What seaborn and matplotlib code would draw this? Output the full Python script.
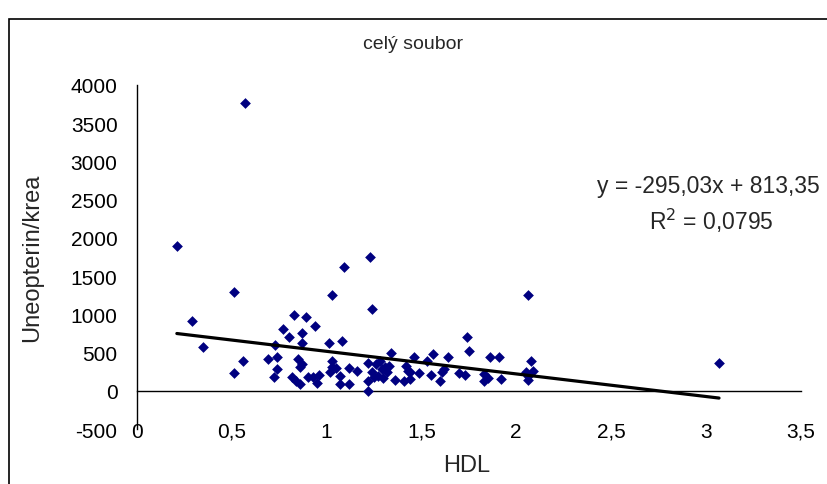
import numpy as np
import pandas as pd
import matplotlib
matplotlib.use("Agg")
import matplotlib.pyplot as plt
import seaborn as sns
from matplotlib.patches import Rectangle

sns.set_style("white")
plt.rcParams['font.family'] = ['Liberation Sans', 'DejaVu Sans']
plt.rcParams['axes.unicode_minus'] = False

# Data
hdl = [0.21, 0.57, 0.51, 0.29, 0.35, 1.09, 1.03, 1.23, 1.24, 2.06, 3.07, 1.74, 1.75,
       0.83, 0.89, 0.94, 0.77, 0.87, 0.80, 0.87, 1.01, 1.08, 0.73, 0.56, 0.69, 0.74,
       0.85, 0.87, 0.86, 0.74, 0.51, 0.72, 0.82, 0.84, 0.86, 0.90, 0.93, 0.96, 0.95,
       1.03, 1.03, 1.05, 1.02, 1.07, 1.07, 1.12, 1.12, 1.16, 1.22, 1.22,
       1.34, 1.46, 1.56, 1.53, 1.26, 1.24, 1.29, 1.33, 1.42, 1.44, 1.49, 1.55, 1.61,
       1.22, 1.36, 1.41, 1.44, 1.60, 1.27, 1.30, 1.28, 1.31, 1.25, 1.43, 1.62, 1.32,
       1.64, 1.86, 1.91, 2.08, 1.70, 1.73, 1.83, 1.85, 1.83, 1.92, 2.05, 2.09, 2.06, 2.06]
uneopterin = [1900, 3760, 1300, 920, 575, 1615, 1255, 1750, 1070, 1255, 365, 700, 520,
              990, 965, 855, 805, 760, 700, 630, 625, 650, 605, 390, 420, 440,
              420, 350, 310, 290, 230, 180, 180, 135, 95, 180, 180, 205, 110,
              395, 320, 295, 245, 200, 95, 90, 300, 260, 370, -5,
              500, 450, 480, 395, 350, 245, 290, 330, 330, 245, 230, 215, 250,
              135, 140, 135, 160, 135, 200, 175, 390, 310, 180, 265, 290, 250,
              440, 440, 440, 390, 240, 215, 220, 175, 130, 155, 245, 260, 150, 200]

slope = -295.03
intercept = 813.35
equation = "y = -295,03x + 813,35"
r2_text = "R$^2$ = 0,0795"

x_ticks = [0, 0.5, 1, 1.5, 2, 2.5, 3, 3.5]
x_tick_labels = ["0", "0,5", "1", "1,5", "2", "2,5", "3", "3,5"]
y_ticks = [-500, 0, 500, 1000, 1500, 2000, 2500, 3000, 3500, 4000]

df = pd.DataFrame({"HDL": hdl, "Uneopterin": uneopterin})

fig = plt.figure(figsize=(8.27, 4.85), dpi=100)
ax = fig.add_axes([0.1657, 0.1129, 0.8023, 0.7098])

sns.scatterplot(data=df, x="HDL", y="Uneopterin", marker="D", color="#000080",
                s=30, linewidth=0, ax=ax, zorder=3)

# trend line
xs = np.array([min(hdl), max(hdl)])
ax.plot(xs, slope * xs + intercept, color="black", linewidth=2.3, zorder=4)

ax.set_xlim(0, 3.5)
ax.set_ylim(-500, 4000)
ax.set_xticks(x_ticks)
ax.set_xticklabels(x_tick_labels)
ax.set_yticks(y_ticks)

# axes spines: x axis drawn at y = 0
ax.spines['bottom'].set_position(('data', 0))
ax.spines['top'].set_visible(False)
ax.spines['right'].set_visible(False)
for s in ['left', 'bottom']:
    ax.spines[s].set_color('black')
    ax.spines[s].set_linewidth(1.0)

ax.tick_params(axis='both', direction='out', length=4, width=1, color='black',
               labelsize=15, labelcolor='black')
ax.tick_params(axis='x', pad=18)
ax.tick_params(axis='y', pad=10)
ax.grid(False)

ax.set_xlabel("HDL", fontsize=17)
ax.set_ylabel("Uneopterin/krea", fontsize=17)
ax.xaxis.set_label_coords(0.497, -0.073)
ax.yaxis.set_label_coords(-0.142, 0.5)

fig.text(0.5, 0.909, "celý soubor", ha='center', va='center', fontsize=14)
fig.text(0.857, 0.615, equation, ha='center', va='center', fontsize=16.5)
fig.text(0.860, 0.545, r2_text, ha='center', va='center', fontsize=16.5)

# chart frame
fig.patches.append(Rectangle((9 / 827, -0.1), 1.1, 1 - 20 / 485 + 0.1,
                             transform=fig.transFigure, fill=False,
                             edgecolor='black', linewidth=1.2))

fig.savefig("out.png", dpi=100)
